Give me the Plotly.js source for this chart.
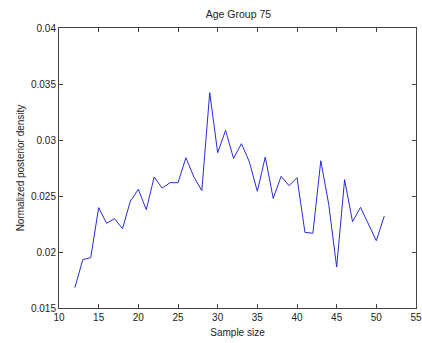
<!DOCTYPE html>
<html><head><meta charset="utf-8">
<script src="https://cdn.plot.ly/plotly-3.0.1.min.js"></script>
<style>html,body{margin:0;padding:0;background:#fff}#chart{width:422px;height:343px}</style>
</head><body><div id="chart"></div>
<script>
const sampleSize = [12,13,14,15,16,17,18,19,20,21,22,23,24,25,26,27,28,29,30,31,32,33,34,35,36,37,38,39,40,41,42,43,44,45,46,47,48,49,50,51];
const density = [0.01682,0.01932,0.01949,0.02396,0.02256,0.02298,0.02208,0.02455,0.02560,0.02378,
  0.02670,0.02571,0.02619,0.02619,0.02842,0.02670,0.02548,0.03423,0.02887,0.03086,
  0.02836,0.02967,0.02804,0.02542,0.02848,0.02479,0.02676,0.02592,0.02664,0.02176,
  0.02167,0.02815,0.02426,0.01866,0.02646,0.02271,0.02399,0.02253,0.02101,0.02321];
const xTicks = [10,15,20,25,30,35,40,45,50,55];
const yTicks = [0.015,0.02,0.025,0.03,0.035,0.04];
const yTickText = ['0.015','0.02','0.025','0.03','0.035','0.04'];

const font = {family:'Liberation Sans, Arial, sans-serif', size:10, color:'#222'};
Plotly.newPlot('chart', [{
  x: sampleSize, y: density, type:'scatter', mode:'lines',
  line:{color:'#2a2ad4', width:1}
}], {
  width:422, height:343,
  margin:{l:59, r:6, t:28, b:35},
  paper_bgcolor:'#fff', plot_bgcolor:'#fff',
  font: font,
  showlegend:false,
  title:{text:'Age Group 75', font:{family:font.family, size:10.5, color:'#222'}, x:0.565, xanchor:'center', y:0.97, yanchor:'top'},
  xaxis:{range:[10,55], tickvals:xTicks, ticktext:xTicks.map(String), ticks:'inside', ticklen:4, tickcolor:'#444',
    showline:true, linecolor:'#444', linewidth:1, mirror:'ticks', showgrid:false, zeroline:false,
    tickfont:font, title:{text:'Sample size', font:font, standoff:6}},
  yaxis:{range:[0.015,0.04], tickvals:yTicks, ticktext:yTickText, ticks:'inside', ticklen:4, tickcolor:'#444',
    showline:true, linecolor:'#444', linewidth:1, mirror:'ticks', showgrid:false, zeroline:false,
    tickfont:font, title:{text:'Normalized posterior density', font:font, standoff:4}}
}, {staticPlot:true, displayModeBar:false});
</script></body></html>
